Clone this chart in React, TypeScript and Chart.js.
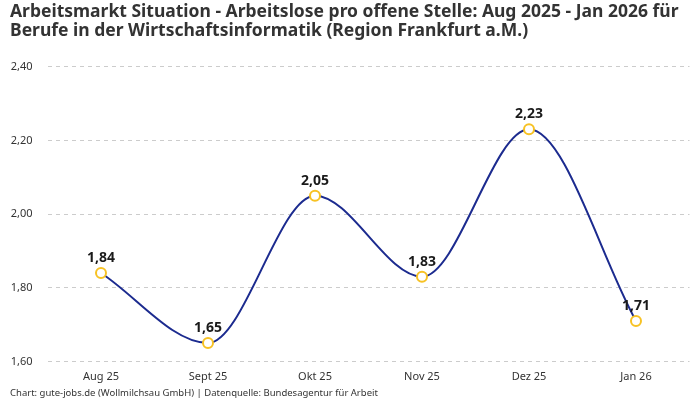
import { useRef, useEffect } from "react";
import { Chart, registerables } from "chart.js";

Chart.register(...registerables);

const months = ["Aug 25", "Sept 25", "Okt 25", "Nov 25", "Dez 25", "Jan 26"];
const ratio = [1.84, 1.65, 2.05, 1.83, 2.23, 1.71];
const titleLines = [
  "Arbeitsmarkt Situation - Arbeitslose pro offene Stelle: Aug 2025 - Jan 2026 für",
  "Berufe in der Wirtschaftsinformatik (Region Frankfurt a.M.)",
];
const sourceNote =
  "Chart: gute-jobs.de (Wollmilchsau GmbH) | Datenquelle: Bundesagentur für Arbeit";

const FONT = "'Noto Sans', Roboto, sans-serif";
const fmt = (v: number) => v.toFixed(2).replace(".", ",");

// draws the value above each point
const valueLabels = {
  id: "valueLabels",
  afterDatasetsDraw(chart: Chart) {
    const ctx = chart.ctx;
    const meta = chart.getDatasetMeta(0);
    ctx.save();
    ctx.font = `bold 14px ${FONT}`;
    ctx.fillStyle = "#1a1a1a";
    ctx.textAlign = "center";
    ctx.textBaseline = "middle";
    meta.data.forEach((pt, i) => {
      ctx.fillText(fmt(ratio[i]), pt.x, pt.y - 15);
    });
    ctx.restore();
  },
};

const App = () => {
  const canvasRef = useRef<HTMLCanvasElement | null>(null);

  useEffect(() => {
    document.body.style.margin = "0";
    const ctx = canvasRef.current?.getContext("2d");
    if (!ctx) return;

    const chart = new Chart(ctx, {
      type: "line",
      data: {
        labels: months,
        datasets: [
          {
            data: ratio,
            borderColor: "#1c2b8f",
            borderWidth: 2,
            cubicInterpolationMode: "monotone",
            pointRadius: 5,
            pointHoverRadius: 5,
            pointBackgroundColor: "#ffffff",
            pointBorderColor: "#f7c224",
            pointBorderWidth: 2,
          },
        ],
      },
      options: {
        animation: false,
        responsive: false,
        layout: { padding: { left: 10, right: 10.5, top: 0, bottom: 1 } },
        plugins: {
          legend: { display: false },
          tooltip: { enabled: false },
          title: {
            display: true,
            text: titleLines,
            align: "start",
            color: "#333333",
            font: { family: FONT, size: 17.5, weight: "bold", lineHeight: 1.05 },
            padding: { top: 3, bottom: 27 },
          },
          subtitle: {
            display: true,
            text: sourceNote,
            position: "bottom",
            align: "start",
            color: "#333333",
            font: { family: FONT, size: 9.5 },
            padding: { top: 3, bottom: 0 },
          },
        },
        scales: {
          x: {
            offset: true,
            grid: { display: false },
            border: { display: false },
            ticks: { color: "#333333", font: { family: FONT, size: 11 }, padding: 1 },
          },
          y: {
            min: 1.6,
            max: 2.4,
            afterFit: (axis) => {
              axis.width = 37.5;
            },
            grid: { color: "#cccccc", drawTicks: false },
            border: { display: false, dash: [4, 4] },
            ticks: {
              stepSize: 0.2,
              color: "#333333",
              padding: 15,
              font: { family: FONT, size: 11 },
              callback: (v) => fmt(Number(v)),
            },
          },
        },
      },
      plugins: [valueLabels],
    });

    return () => {
      chart.destroy();
    };
  }, []);

  return <canvas ref={canvasRef} width={700} height={400}></canvas>;
};

export default App;
